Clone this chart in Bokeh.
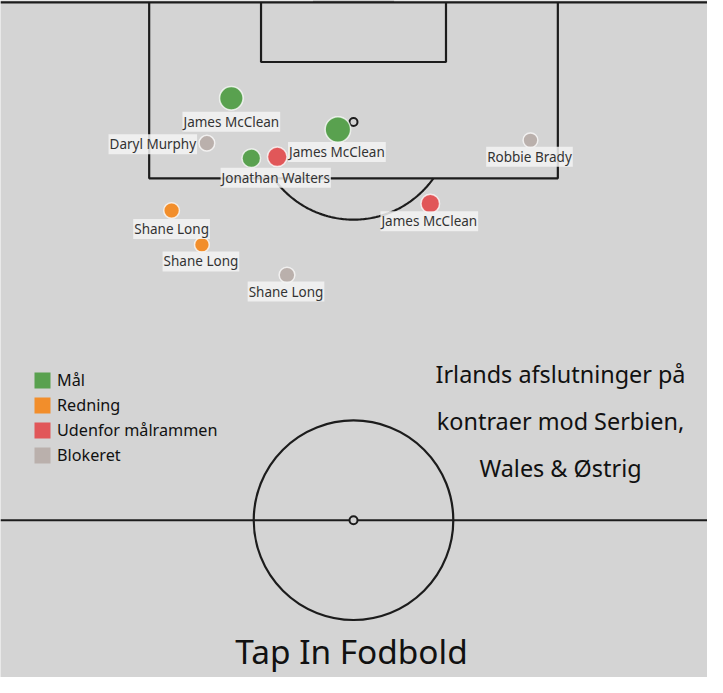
import numpy as np
from bokeh.plotting import figure
from bokeh.models import ColumnDataSource, Range1d, Legend, LegendItem, Label
from bokeh.transform import factor_cmap
from bokeh.core.properties import value
from bokeh.embed import file_html
from bokeh.resources import INLINE

# ---------------- data ----------------
outcomes = ["Mål", "Redning", "Udenfor målrammen", "Blokeret"]
outcome_colors = ["#59a14f", "#f28e2b", "#e15759", "#bab0ac"]

players = ["James McClean", "James McClean", "Jonathan Walters", "",
           "James McClean", "Daryl Murphy", "Robbie Brady",
           "Shane Long", "Shane Long", "Shane Long"]
shot_outcome = ["Mål", "Mål", "Mål", "Udenfor målrammen",
                "Udenfor målrammen", "Blokeret", "Blokeret",
                "Blokeret", "Redning", "Redning"]
# shot position in metres: x across the pitch, y from the goal line
shot_x = [21.95, 32.46, 23.92, 26.48, 41.57, 19.54, 51.45, 27.44, 16.06, 19.05]
shot_y = [9.45, 12.54, 15.38, 15.24, 19.86, 13.89, 13.60, 26.90, 20.54, 23.92]

title_lines = ["Irlands afslutninger på", "kontraer mod Serbien,", "Wales & Østrig"]
footer = "Tap In Fodbold"

# ---------------- style ----------------
S = 707 / 723.0
dot_size = [24, 26, 19, 20, 19, 16, 15, 16, 16, 15]
label_dx = [0, -1, 25, 0, -1, -10, -1, -1, 0, -1]
label_dy = [24, 23, 20, 0, 18, 1, 17, 17, 19, 17]
label_align = ["center", "center", "center", "center", "center", "right",
               "center", "center", "center", "center"]

BG = "#d4d4d4"
LINE = "#1c1c1c"
LW = 2.2
FONT = "Noto Sans"

# pitch markings (metres, as drawn on this pitch)
CX = 34.0
PPM = 10.37  # reference pixels per metre
box_half_w, box_depth = 20.15, 17.36
six_half_w, six_depth = 9.12, 5.88
spot_y, arc_r = 11.8, 9.64
half_y, circle_r = 51.11, 9.84
goal_half_w = 4.0

x0 = CX - 361 / PPM
x1 = CX + 362 / PPM
y0 = -2 / PPM
y1 = 691 / PPM

p = figure(width=707, height=677, x_range=Range1d(x0, x1), y_range=Range1d(y1, y0),
           output_backend="svg", toolbar_location=None, min_border=0,
           background_fill_color=BG, border_fill_color=BG, outline_line_color=None,
           x_axis_location=None, y_axis_location=None)
p.grid.visible = False

# goal
p.quad(left=[CX - goal_half_w], right=[CX + goal_half_w], top=[y0], bottom=[0],
       fill_color="#8c8c8c", line_color=None)
# goal line
p.line([x0, x1], [0, 0], line_color=LINE, line_width=LW)
# penalty box
p.line([CX - box_half_w, CX - box_half_w, CX + box_half_w, CX + box_half_w],
       [0, box_depth, box_depth, 0], line_color=LINE, line_width=LW)
# six-yard box
p.line([CX - six_half_w, CX - six_half_w, CX + six_half_w, CX + six_half_w],
       [0, six_depth, six_depth, 0], line_color=LINE, line_width=LW)
# penalty arc (outside the box)
a0 = np.arcsin((box_depth - spot_y) / arc_r)
t = np.linspace(a0, np.pi - a0, 120)
p.line(CX + arc_r * np.cos(t), spot_y + arc_r * np.sin(t), line_color=LINE, line_width=LW)
# halfway line and centre circle
p.line([x0, x1], [half_y, half_y], line_color=LINE, line_width=LW)
p.circle(x=[CX], y=[half_y], radius=circle_r, fill_color=None, line_color=LINE, line_width=LW)
# spots
p.scatter(x=[CX, CX], y=[spot_y, half_y], size=8, marker="circle",
          fill_color=BG, line_color=LINE, line_width=2)

# shots
src = ColumnDataSource(dict(x=shot_x, y=shot_y, player=players, outcome=shot_outcome,
                            size=[d * S for d in dot_size]))
color_map = factor_cmap("outcome", outcome_colors, outcomes)
p.scatter(x="x", y="y", size="size", source=src, marker="circle",
          fill_color=color_map, line_color="white", line_alpha=0.75, line_width=1.5)

# zero-area squares on the same data, used only for square legend swatches
legend_r = p.quad(left="x", right="x", top="y", bottom="y", source=src,
                  fill_color=color_map, line_color=None)

idx = [i for i, n in enumerate(players) if n]
lab = ColumnDataSource(dict(
    x=[shot_x[i] for i in idx], y=[shot_y[i] for i in idx],
    text=[players[i] for i in idx],
    dx=[label_dx[i] * S for i in idx], dy=[label_dy[i] * S for i in idx],
    align=[label_align[i] for i in idx]))
p.text(x="x", y="y", text="text", source=lab, x_offset="dx", y_offset="dy",
       text_align="align", text_baseline="middle", text_font=value(FONT),
       text_font_size="13.5px", text_color="#333333",
       background_fill_color="#f3f3f3", background_fill_alpha=0.85, padding=1)

# legend
items = [LegendItem(label=name, renderers=[legend_r], index=shot_outcome.index(name))
         for name in outcomes]
legend = Legend(items=items, location=(32, 211), padding=0, margin=0, spacing=3,
                glyph_width=20, glyph_height=20, label_standoff=5,
                label_text_font=FONT, label_text_font_size="16.2px",
                label_text_color="#111111", background_fill_alpha=0,
                border_line_alpha=0)
p.add_layout(legend)

# title
for line, yb in zip(title_lines, [304, 257, 210]):
    p.add_layout(Label(x=560, y=yb, x_units="screen", y_units="screen", text=line,
                       text_align="center", text_baseline="alphabetic",
                       text_font=FONT, text_font_size="23.4px", text_color="#111111"))
p.add_layout(Label(x=351, y=27, x_units="screen", y_units="screen", text=footer,
                   text_align="center", text_baseline="alphabetic",
                   text_font=FONT, text_font_size="33.4px", text_color="#111111"))

open("out.html", "w").write(file_html(p, INLINE))
